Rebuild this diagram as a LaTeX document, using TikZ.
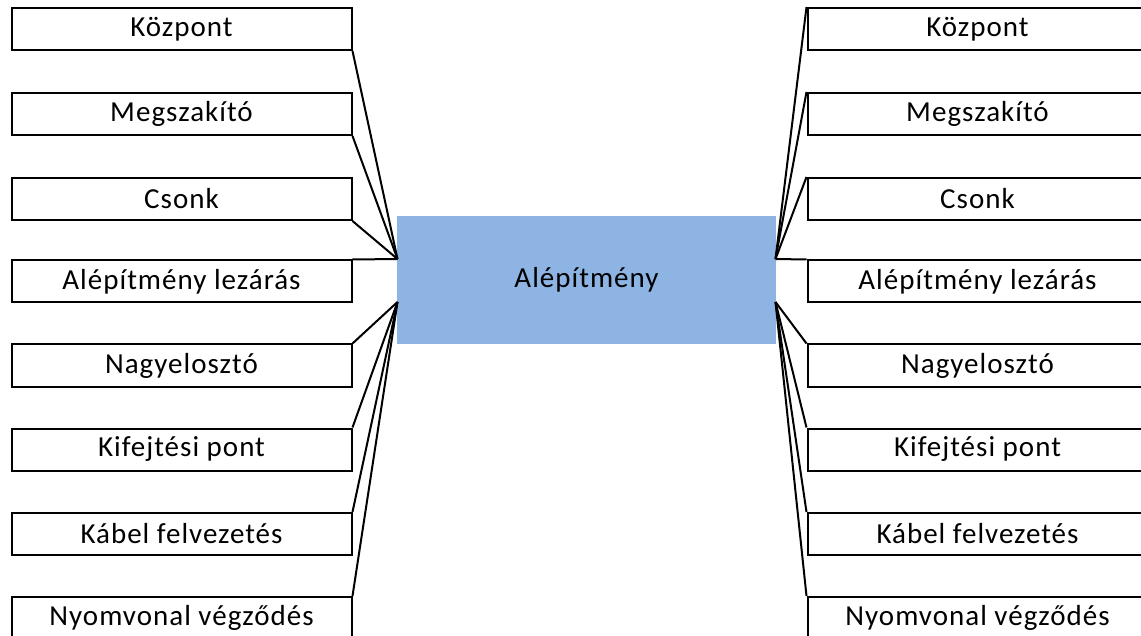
\documentclass[tikz,border=0pt]{standalone}
\usepackage{fontspec}
\setmainfont{Carlito}[LetterSpace=3.5]
\begin{document}
\begin{tikzpicture}[x=1pt,y=-1pt,
  lbl/.style={draw=black,line width=2pt,rectangle,minimum width=340pt,minimum height=42pt,inner sep=0pt,font=\fontsize{29}{32}\selectfont},
  conn/.style={draw=black,line width=2pt},
  hub/.style={fill=hubblue,rectangle,minimum width=379pt,minimum height=128pt,inner sep=0pt,font=\fontsize{29}{32}\selectfont}]
\definecolor{hubblue}{HTML}{8EB4E3}
\clip (0,0) rectangle (1141,636);
\useasboundingbox (0,0) rectangle (1141,636);
\node[hub] (c) at (586.5,280) {Alépítmény};
\coordinate (ul) at (397.5,259);
\coordinate (ll) at (397.5,302);
\coordinate (ur) at (775.5,259);
\coordinate (lr) at (775.5,302);
% left boxes
\node[lbl,anchor=north west] (L1) at (10.5,7) {Központ};
\node[lbl,anchor=north west] (L2) at (10.5,92) {Megszakító};
\node[lbl,anchor=north west] (L3) at (10.5,177) {Csonk};
\node[lbl,anchor=north west] (L4) at (10.5,259.5) {Alépítmény lezárás};
\node[lbl,anchor=north west] (L5) at (10.5,343.5) {Nagyelosztó};
\node[lbl,anchor=north west] (L6) at (10.5,427.5) {Kifejtési pont};
\node[lbl,anchor=north west] (L7) at (10.5,512) {Kábel felvezetés};
\node[lbl,anchor=north west] (L8) at (10.5,596) {Nyomvonal végződés};
% right boxes
\node[lbl,anchor=north west] (R1) at (806.5,7) {Központ};
\node[lbl,anchor=north west] (R2) at (806.5,92) {Megszakító};
\node[lbl,anchor=north west] (R3) at (806.5,177) {Csonk};
\node[lbl,anchor=north west] (R4) at (806.5,259.5) {Alépítmény lezárás};
\node[lbl,anchor=north west] (R5) at (806.5,343.5) {Nagyelosztó};
\node[lbl,anchor=north west] (R6) at (806.5,427.5) {Kifejtési pont};
\node[lbl,anchor=north west] (R7) at (806.5,512) {Kábel felvezetés};
\node[lbl,anchor=north west] (R8) at (806.5,596) {Nyomvonal végződés};
% connectors left
\draw[conn] (L1.south east) -- (ul);
\draw[conn] (L2.south east) -- (ul);
\draw[conn] (L3.south east) -- (ul);
\draw[conn] (L4.north east) -- (ul);
\draw[conn] (L5.north east) -- (ll);
\draw[conn] (L6.north east) -- (ll);
\draw[conn] (L7.north east) -- (ll);
\draw[conn] (L8.north east) -- (ll);
% connectors right
\draw[conn] (R1.north west) -- (ur);
\draw[conn] (R2.north west) -- (ur);
\draw[conn] (R3.north west) -- (ur);
\draw[conn] (R4.north west) -- (ur);
\draw[conn] (R5.north west) -- (lr);
\draw[conn] (R6.north west) -- (lr);
\draw[conn] (R7.north west) -- (lr);
\draw[conn] (R8.north west) -- (lr);
\end{tikzpicture}
\end{document}
